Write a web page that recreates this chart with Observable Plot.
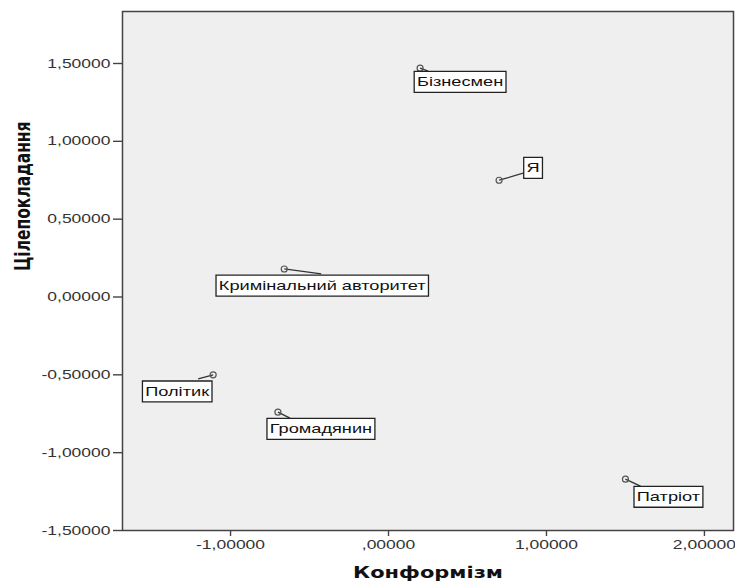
<!DOCTYPE html>
<html><head><meta charset="utf-8">
<script src="https://cdn.jsdelivr.net/npm/d3@7"></script>
<script src="https://cdn.jsdelivr.net/npm/@observablehq/plot@0.6"></script>
<style>body{margin:0;background:#fff}</style>
</head><body><div id="chart"></div>
<script>
// ---- data ----
const names = ["Бізнесмен", "Я", "Кримінальний авторитет", "Політик", "Громадянин", "Патріот"];
const conformism = [0.20, 0.70, -0.66, -1.11, -0.70, 1.50];
const goalSetting = [1.47, 0.75, 0.18, -0.50, -0.74, -1.17];
const xTicks = [-1, 0, 1, 2];
const yTicks = [-1.5, -1, -0.5, 0, 0.5, 1, 1.5];
const xTitle = "Конформізм";
const yTitle = "Цілепокладання";

// ---- layout (pixel offsets of label centre / leader end, relative to each point) ----
const labelOffset = [[40, 14], [34, -12], [38, 17], [-36, 17], [43, 17], [43, 18]];
const leaderOffset = [[8, 3], [24, -7], [37, 5], [-15, 4], [12, 6], [15, 7]];

const W = 735, H = 585, mL = 122, mR = 2, mT = 11, mB = 55;
const xDomain = [-1.684, 2.184], yDomain = [-1.5, 1.834];
const kx = (W - mL - mR) / (xDomain[1] - xDomain[0]);
const ky = (H - mT - mB) / (yDomain[1] - yDomain[0]);
const STRETCH = 1.4;

const data = names.map((name, i) => ({
  name,
  x: conformism[i],
  y: goalSetting[i],
  lx: conformism[i] + labelOffset[i][0] / kx,
  ly: goalSetting[i] - labelOffset[i][1] / ky,
  ex: conformism[i] + leaderOffset[i][0] / kx,
  ey: goalSetting[i] - leaderOffset[i][1] / ky
}));

const fmt = d => d.toFixed(5).replace(".", ",");
const xFmt = d => d === 0 ? ",00000" : fmt(d);

const plot = Plot.plot({
  width: W, height: H,
  marginLeft: mL, marginRight: mR, marginTop: mT, marginBottom: mB,
  x: {domain: xDomain},
  y: {domain: yDomain},
  style: {fontFamily: "'Liberation Sans', Arial, sans-serif", fontSize: "12.5px", color: "#333", background: "white", overflow: "visible"},
  marks: [
    Plot.frame({fill: "#efefef"}),
    Plot.link(data, {x1: "x", y1: "y", x2: "ex", y2: "ey", stroke: "#333", strokeWidth: 1.3}),
    Plot.dot(data, {x: "x", y: "y", r: 3, stroke: "#555", strokeWidth: 1.2, fill: "none"}),
    Plot.text(data, {x: "lx", y: "ly", text: "name", fontSize: 13, fill: "#111", className: "lbl"}),
    Plot.frame({stroke: "#444", strokeWidth: 1.5}),
    Plot.axisX({ticks: xTicks, tickFormat: xFmt, tickSize: 6, tickPadding: 4, label: null, fontSize: 12.5, stroke: "#444", strokeWidth: 1.4}),
    Plot.axisY({ticks: yTicks, tickFormat: fmt, tickSize: 9, tickPadding: 3, label: null, fontSize: 12.5, stroke: "#444", strokeWidth: 1.4}),
    Plot.text([xTitle], {text: d => d, frameAnchor: "bottom", dy: 43, lineAnchor: "middle", fontSize: 15, fontWeight: "bold", fontFamily: "'DejaVu Sans', sans-serif", fill: "#111", className: "xt"}),
    Plot.text([yTitle], {text: d => d, frameAnchor: "left", dx: -99, rotate: -90, lineAnchor: "middle", fontSize: 15.5, fontWeight: "bold", fontFamily: "'DejaVu Sans', sans-serif", fill: "#111", className: "yt"})
  ]
});

document.getElementById("chart").append(plot);

// horizontal stretch of all text, as in the reference picture
plot.querySelectorAll("text").forEach(t => {
  const rotated = !!t.closest(".yt");
  const sc = rotated ? ` scale(1,${STRETCH})` : ` scale(${STRETCH},1)`;
  const tr = t.getAttribute("transform");
  if (tr) {
    t.setAttribute("transform", tr + sc);
  } else {
    const x = +(t.getAttribute("x") || 0), y = +(t.getAttribute("y") || 0);
    t.setAttribute("transform", `translate(${x},${y})${sc} translate(${-x},${-y})`);
  }
});

// boxes around the point labels
plot.querySelectorAll(".lbl text").forEach(t => {
  const bb = t.getBBox();
  const r = document.createElementNS("http://www.w3.org/2000/svg", "rect");
  r.setAttribute("x", bb.x - 2);
  r.setAttribute("y", bb.y - 3.5);
  r.setAttribute("width", bb.width + 4);
  r.setAttribute("height", bb.height + 7);
  r.setAttribute("transform", t.getAttribute("transform"));
  r.setAttribute("fill", "#fff");
  r.setAttribute("stroke", "#222");
  r.setAttribute("stroke-width", 1.3);
  r.setAttribute("vector-effect", "non-scaling-stroke");
  t.parentNode.insertBefore(r, t);
});
</script>
</body></html>
